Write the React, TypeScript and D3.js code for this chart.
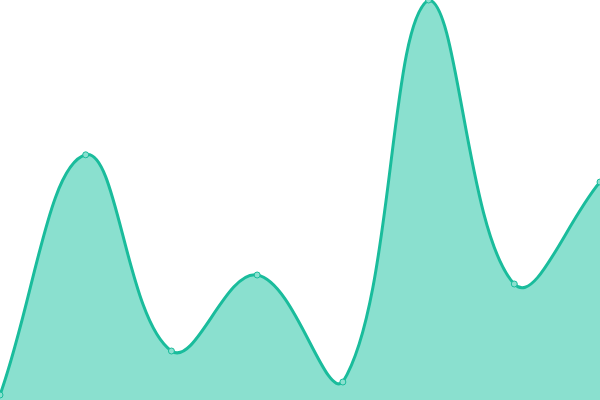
import { useMemo } from "react";
import * as d3 from "d3";

const labels = ["A", "B", "C", "D", "E", "F", "G", "H"];
const values = [1.25, 61.3, 12.25, 31.25, 4.5, 100, 29, 54.5];

const LINE_COLOR = "#1abc9c";
const FILL_COLOR = "#8ae0cf";

const WIDTH = 600;
const HEIGHT = 400;
const TENSION = 0.4;

// spline with distance-weighted control points, capped to the plot area
class CappedSpline {
  _context: any;
  _line: number = NaN;
  _pts: [number, number][] = [];
  constructor(context: any) {
    this._context = context;
  }
  areaStart() {
    this._line = 0;
  }
  areaEnd() {
    this._line = NaN;
  }
  lineStart() {
    this._pts = [];
  }
  point(x: number, y: number) {
    this._pts.push([+x, +y]);
  }
  lineEnd() {
    const pts = this._pts;
    const n = pts.length;
    if (n) {
      const clampX = (v: number) => Math.max(0, Math.min(WIDTH, v));
      const clampY = (v: number) => Math.max(0, Math.min(HEIGHT, v));
      const cps = pts.map((cur, i) => {
        const prev = pts[Math.max(0, i - 1)];
        const next = pts[Math.min(n - 1, i + 1)];
        const d01 = Math.hypot(cur[0] - prev[0], cur[1] - prev[1]);
        const d12 = Math.hypot(next[0] - cur[0], next[1] - cur[1]);
        let s01 = d01 / (d01 + d12);
        let s12 = d12 / (d01 + d12);
        if (isNaN(s01)) s01 = 0;
        if (isNaN(s12)) s12 = 0;
        const fa = TENSION * s01;
        const fb = TENSION * s12;
        return {
          before: [clampX(cur[0] - fa * (next[0] - prev[0])), clampY(cur[1] - fa * (next[1] - prev[1]))],
          after: [clampX(cur[0] + fb * (next[0] - prev[0])), clampY(cur[1] + fb * (next[1] - prev[1]))],
        };
      });
      if (this._line) this._context.lineTo(pts[0][0], pts[0][1]);
      else this._context.moveTo(pts[0][0], pts[0][1]);
      for (let i = 1; i < n; i++) {
        this._context.bezierCurveTo(
          cps[i - 1].after[0],
          cps[i - 1].after[1],
          cps[i].before[0],
          cps[i].before[1],
          pts[i][0],
          pts[i][1]
        );
      }
    }
    if (this._line || (this._line !== 0 && n === 1)) this._context.closePath();
    this._line = 1 - this._line;
  }
}

const curveCappedSpline = ((context: any) => new CappedSpline(context)) as unknown as d3.CurveFactory;

export default function App() {
  const xScale = useMemo(
    () => d3.scalePoint<string>().domain(labels).range([0, WIDTH]),
    []
  );
  const yScale = useMemo(
    () => d3.scaleLinear().domain([0, 100]).range([HEIGHT, 0]),
    []
  );

  const points = labels.map((label, i) => ({ label, value: values[i] }));

  const area = d3
    .area<{ label: string; value: number }>()
    .x((d) => xScale(d.label) ?? 0)
    .y0(HEIGHT)
    .y1((d) => yScale(d.value))
    .curve(curveCappedSpline);

  const line = d3
    .line<{ label: string; value: number }>()
    .x((d) => xScale(d.label) ?? 0)
    .y((d) => yScale(d.value))
    .curve(curveCappedSpline);

  return (
    <>
      <style>{`body { margin: 0; }`}</style>
      <svg width={WIDTH} height={HEIGHT} style={{ display: "block" }}>
        <path d={area(points) ?? ""} fill={FILL_COLOR} />
        <path d={line(points) ?? ""} fill="none" stroke={LINE_COLOR} strokeWidth={3} />
        {/* Points */}
        {points.map((p) => (
          <circle
            key={p.label}
            cx={xScale(p.label)}
            cy={yScale(p.value)}
            r={3}
            fill={FILL_COLOR}
            stroke={LINE_COLOR}
            strokeWidth={1}
          />
        ))}
      </svg>
    </>
  );
}
